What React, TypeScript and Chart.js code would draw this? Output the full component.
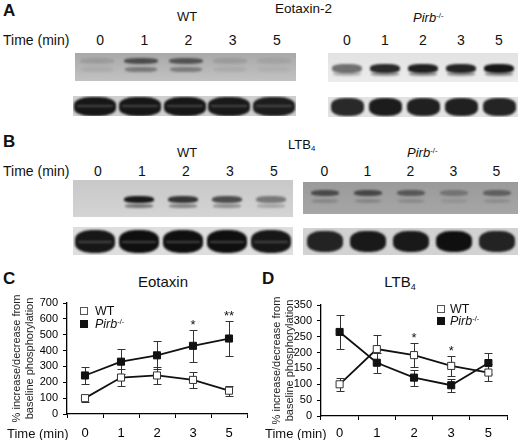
import React, { useEffect, useRef } from 'react';
import { Chart, registerables } from 'chart.js';

Chart.register(...registerables);

const FONT = '"Liberation Sans", Arial, Helvetica, sans-serif';
Chart.defaults.font.family = FONT;

// ---------- data ----------
const timeLabels = ['0', '1', '2', '3', '5'];

const eotaxinWT = [100, 230, 243, 215, 147];
const eotaxinWTErr = [22, 55, 55, 50, 32];
const eotaxinKO = [243, 330, 370, 430, 476];
const eotaxinKOErr = [55, 78, 88, 100, 112];
const eotaxinStars = ['', '', '', '*', '**'];

const ltb4WT = [100, 211, 192, 158, 137];
const ltb4WTErr = [20, 43, 38, 32, 28];
const ltb4KO = [265, 168, 121, 97, 167];
const ltb4KOErr = [53, 32, 25, 20, 33];
const ltb4Stars = ['', '', '*', '*', ''];

// blot band intensities (0..1) per lane
const blotAWTPhospho = [0.12, 0.62, 0.58, 0.12, 0.08];
const blotAWTTotal = [0.97, 0.97, 0.97, 0.95, 0.93];
const blotAKOPhospho = [0.55, 0.88, 0.92, 0.9, 0.97];
const blotAKOTotal = [0.88, 0.94, 0.92, 0.92, 0.9];
const blotBWTPhospho = [0.0, 0.95, 0.8, 0.68, 0.45];
const blotBWTTotal = [0.96, 1, 1, 1, 0.96];
const blotBKOPhospho = [0.6, 0.62, 0.5, 0.3, 0.45];
const blotBKOTotal = [0.9, 0.95, 0.95, 1, 0.9];

// ---------- plugins ----------
const errorBars = {
  id: 'errorBars',
  beforeDatasetsDraw(chart: any, _a: any, opts: any) {
    const { ctx } = chart;
    const y = chart.scales.y;
    const sets: number[][] = opts.errors || [];
    ctx.save();
    ctx.strokeStyle = '#333';
    ctx.lineWidth = 1;
    chart.data.datasets.forEach((ds: any, di: number) => {
      const errs = sets[di];
      if (!errs) return;
      const meta = chart.getDatasetMeta(di);
      meta.data.forEach((pt: any, i: number) => {
        const v = ds.data[i];
        const e = errs[i];
        const x = Math.round(pt.x) + 0.5;
        const yt = Math.round(y.getPixelForValue(v + e)) + 0.5;
        const yb = Math.round(y.getPixelForValue(v - e)) + 0.5;
        const cap = 4;
        ctx.beginPath();
        ctx.moveTo(x, yt);
        ctx.lineTo(x, yb);
        ctx.moveTo(x - cap, yt);
        ctx.lineTo(x + cap, yt);
        ctx.moveTo(x - cap, yb);
        ctx.lineTo(x + cap, yb);
        ctx.stroke();
      });
    });
    ctx.restore();
  },
};

const stars = {
  id: 'stars',
  afterDatasetsDraw(chart: any, _a: any, opts: any) {
    const { ctx } = chart;
    const y = chart.scales.y;
    const labels: string[] = opts.labels || [];
    const errs: number[][] = opts.errors || [];
    ctx.save();
    ctx.fillStyle = '#111';
    ctx.font = `13px ${FONT}`;
    ctx.textAlign = 'center';
    ctx.textBaseline = 'alphabetic';
    labels.forEach((s, i) => {
      if (!s) return;
      let top = -Infinity;
      chart.data.datasets.forEach((ds: any, di: number) => {
        const e = errs[di] ? errs[di][i] : 0;
        top = Math.max(top, ds.data[i] + e);
      });
      const x = chart.getDatasetMeta(0).data[i].x;
      ctx.fillText(s, x, y.getPixelForValue(top) - 1);
    });
    ctx.restore();
  },
};

// ---------- chart ----------
type ChartProps = {
  left: number; top: number; width: number; height: number;
  wt: number[]; wtErr: number[]; ko: number[]; koErr: number[]; starLabels: string[];
  yMax: number; yStep: number; yWidth: number; xHeight: number; padTop: number; padRight: number;
  xPad: number; yFont: number;
};

function LineChart(p: ChartProps) {
  const ref = useRef<HTMLCanvasElement>(null);
  useEffect(() => {
    if (!ref.current) return;
    const chart = new Chart(ref.current, {
      type: 'line',
      data: {
        labels: timeLabels,
        datasets: [
          {
            label: 'WT', data: p.wt, borderColor: '#111', borderWidth: 1.8,
            pointStyle: 'rect', pointRadius: 5, pointBackgroundColor: '#fff',
            pointBorderColor: '#333', pointBorderWidth: 1, tension: 0,
          },
          {
            label: 'Pirb-/-', data: p.ko, borderColor: '#111', borderWidth: 1.8,
            pointStyle: 'rect', pointRadius: 5, pointBackgroundColor: '#111',
            pointBorderColor: '#111', pointBorderWidth: 1, tension: 0,
          },
        ],
      },
      options: {
        animation: false,
        responsive: false,
        events: [],
        layout: { padding: { top: p.padTop, right: p.padRight, left: 0, bottom: 0 } },
        plugins: {
          legend: { display: false },
          tooltip: { enabled: false },
          errorBars: { errors: [p.wtErr, p.koErr] },
          stars: { labels: p.starLabels, errors: [p.wtErr, p.koErr] },
        } as any,
        scales: {
          x: {
            type: 'category',
            offset: true,
            grid: { display: true, drawOnChartArea: false, drawTicks: true, tickLength: 4, color: '#000', offset: true },
            border: { display: true, color: '#000', width: 1.3 },
            ticks: { color: '#000', font: { size: 13 }, padding: p.xPad, maxRotation: 0, autoSkip: false },
            afterFit: (s: any) => { s.height = p.xHeight; },
          },
          y: {
            min: 0, max: p.yMax,
            grid: { display: true, drawOnChartArea: false, drawTicks: true, tickLength: 4, color: '#000' },
            border: { display: true, color: '#000', width: 1.3 },
            ticks: { stepSize: p.yStep, color: '#000', font: { size: p.yFont }, padding: 5, autoSkip: false },
            title: {
              display: true,
              text: ['% increase/decrease from', 'baseline phosphorylation'],
              color: '#222',
              font: { size: 11, lineHeight: 1.12 },
              padding: { top: 11, bottom: 0 },
            },
            afterFit: (s: any) => { s.width = p.yWidth; },
          },
        },
      } as any,
      plugins: [errorBars, stars] as any,
    });
    return () => chart.destroy();
  }, []);
  return (
    <canvas ref={ref} width={p.width} height={p.height}
      style={{ position: 'absolute', left: p.left, top: p.top, width: p.width, height: p.height }} />
  );
}

// ---------- text helpers ----------
type TProps = { x: number; cy: number; size: number; center?: boolean; bold?: boolean; italic?: boolean; children: React.ReactNode };
function T({ x, cy, size, center, bold, italic, children }: TProps) {
  return (
    <div style={{
      position: 'absolute', left: x, top: cy - size / 2, fontSize: size, lineHeight: 1,
      fontFamily: FONT, fontWeight: bold ? 700 : 400, fontStyle: italic ? 'italic' : 'normal',
      transform: center ? 'translateX(-50%)' : undefined, whiteSpace: 'nowrap', color: '#111',
    }}>{children}</div>
  );
}

function Pirb() {
  return (<span><i>Pirb</i><sup style={{ fontSize: '0.6em', verticalAlign: '0.55em' }}>-/-</sup></span>);
}

// ---------- blots ----------
type BlotProps = {
  x: number; y: number; w: number; h: number; bg: string; values: number[];
  cy: number; bh: number; bw: number; lower?: { cy: number; bh: number; k: number };
  stripe?: number; blur?: number;
};
function Blot(p: BlotProps) {
  const lane = p.w / p.values.length;
  return (
    <div style={{ position: 'absolute', left: p.x, top: p.y, width: p.w, height: p.h, background: p.bg, overflow: 'hidden' }}>
      {p.values.map((v, i) => {
        const cx = (i + 0.5) * lane;
        return (
          <React.Fragment key={i}>
            <div style={{
              position: 'absolute', left: cx - p.bw / 2, top: p.cy - p.bh / 2, width: p.bw, height: p.bh,
              borderRadius: '40%', background: `rgba(15,15,15,${v})`, filter: `blur(${p.blur ?? 1.3}px)`,
            }} />
            {p.lower && (
              <div style={{
                position: 'absolute', left: cx - p.bw / 2 + 1, top: p.lower.cy - p.lower.bh / 2, width: p.bw - 2, height: p.lower.bh,
                borderRadius: '40%', background: `rgba(15,15,15,${v * p.lower.k})`, filter: `blur(${p.blur ?? 1.3}px)`,
              }} />
            )}
            {p.stripe !== undefined && v > 0.5 && (
              <div style={{
                position: 'absolute', left: cx - p.bw / 2 + 3, top: p.stripe - 1, width: p.bw - 6, height: 2,
                background: 'rgba(120,120,120,0.5)', filter: 'blur(0.8px)',
              }} />
            )}
          </React.Fragment>
        );
      })}
    </div>
  );
}

function laneCenters(x: number, w: number) {
  return timeLabels.map((_, i) => x + (i + 0.5) * (w / timeLabels.length));
}

export default function App() {
  const aWT = { x: 75, w: 221 };
  const aKO = { x: 328, w: 190 };
  const bWT = { x: 73, w: 220 };
  const bKO = { x: 303, w: 215 };
  return (
    <div style={{ position: 'absolute', left: 0, top: 0, width: 520, height: 440, background: '#fff', overflow: 'hidden', fontFamily: FONT }}>
      {/* Panel A */}
      <T x={3} cy={10} size={17} bold>A</T>
      <T x={187} cy={16} size={13} center>WT</T>
      <T x={275} cy={9} size={13.5}>Eotaxin-2</T>
      <T x={413} cy={17} size={13}><Pirb /></T>
      <T x={3} cy={40} size={14}>Time (min)</T>
      {laneCenters(aWT.x, aWT.w).map((cx, i) => <T key={'aw' + i} x={cx + 3} cy={40} size={14} center>{timeLabels[i]}</T>)}
      {laneCenters(aKO.x, aKO.w).map((cx, i) => <T key={'ak' + i} x={cx} cy={40} size={14} center>{timeLabels[i]}</T>)}
      <Blot x={aWT.x} y={53} w={aWT.w} h={28} bg="linear-gradient(180deg,#a8a8a8,#c2c2c2)" values={blotAWTPhospho}
        cy={8} bh={6} bw={34} lower={{ cy: 16, bh: 5, k: 0.6 }} />
      <Blot x={aWT.x - 2} y={96} w={aWT.w + 2} h={20} bg="#cfcfcf" values={blotAWTTotal} cy={10} bh={19} bw={42} stripe={10} blur={1} />
      <Blot x={aKO.x} y={53} w={aKO.w} h={29} bg="linear-gradient(180deg,#e2e2e2,#ececec)" values={blotAKOPhospho}
        cy={15} bh={9} bw={30} lower={{ cy: 21, bh: 4, k: 0.45 }} />
      <Blot x={aKO.x} y={97} w={aKO.w} h={20} bg="#e2e2e2" values={blotAKOTotal} cy={10} bh={18} bw={33} blur={1.2} />

      {/* Panel B */}
      <T x={3} cy={141} size={17} bold>B</T>
      <T x={187} cy={152} size={13} center>WT</T>
      <T x={288} cy={144} size={13}>LTB<sub style={{ fontSize: '0.6em', verticalAlign: '-0.3em' }}>4</sub></T>
      <T x={407} cy={152} size={13}><Pirb /></T>
      <T x={3} cy={171} size={14}>Time (min)</T>
      {laneCenters(bWT.x, bWT.w).map((cx, i) => <T key={'bw' + i} x={cx + 3} cy={171} size={14} center>{timeLabels[i]}</T>)}
      {laneCenters(bKO.x, bKO.w).map((cx, i) => <T key={'bk' + i} x={cx} cy={171} size={14} center>{timeLabels[i]}</T>)}
      <Blot x={bWT.x} y={180} w={bWT.w} h={37} bg="linear-gradient(180deg,#c8c8c8,#d4d4d4)" values={blotBWTPhospho}
        cy={19} bh={7} bw={30} lower={{ cy: 26, bh: 4, k: 0.5 }} />
      <Blot x={bWT.x} y={227} w={bWT.w} h={28} bg="#dedede" values={blotBWTTotal} cy={14} bh={23} bw={40} stripe={15} blur={1} />
      <Blot x={bKO.x} y={182} w={bKO.w} h={32} bg="linear-gradient(180deg,#9a9a9a,#a6a6a6)" values={blotBKOPhospho}
        cy={11} bh={6} bw={28} lower={{ cy: 19, bh: 4, k: 0.3 }} />
      <Blot x={bKO.x} y={228} w={bKO.w} h={27} bg="#d2d2d2" values={blotBKOTotal} cy={13} bh={21} bw={36} blur={1.2} />

      {/* Panel C */}
      <T x={3} cy={278} size={17} bold>C</T>
      <T x={163} cy={281} size={15} center>Eotaxin</T>
      <LineChart left={0} top={290} width={260} height={150} wt={eotaxinWT} wtErr={eotaxinWTErr} ko={eotaxinKO} koErr={eotaxinKOErr}
        starLabels={eotaxinStars} yMax={700} yStep={100} yWidth={67} xHeight={26} padTop={13} padRight={13} xPad={8} yFont={11} />
      <T x={7} cy={433} size={13}>Time (min)</T>
      <div style={{ position: 'absolute', left: 80, top: 307, width: 6, height: 6, border: '1px solid #555', background: '#fff' }} />
      <T x={95} cy={311} size={12.5}>WT</T>
      <div style={{ position: 'absolute', left: 80, top: 320, width: 8, height: 8, background: '#111' }} />
      <T x={95} cy={324} size={12.5}><Pirb /></T>

      {/* Panel D */}
      <T x={262} cy={278} size={17} bold>D</T>
      <T x={400} cy={281} size={15} center>LTB<sub style={{ fontSize: '0.6em', verticalAlign: '-0.3em' }}>4</sub></T>
      <LineChart left={260} top={292} width={260} height={148} wt={ltb4WT} wtErr={ltb4WTErr} ko={ltb4KO} koErr={ltb4KOErr}
        starLabels={ltb4Stars} yMax={350} yStep={50} yWidth={61} xHeight={24} padTop={13} padRight={13} xPad={6} yFont={11} />
      <T x={265} cy={433} size={13}>Time (min)</T>
      <div style={{ position: 'absolute', left: 437, top: 305, width: 6, height: 6, border: '1px solid #555', background: '#fff' }} />
      <T x={450} cy={309} size={12.5}>WT</T>
      <div style={{ position: 'absolute', left: 437, top: 317, width: 8, height: 8, background: '#111' }} />
      <T x={450} cy={321} size={12.5}><Pirb /></T>
    </div>
  );
}
